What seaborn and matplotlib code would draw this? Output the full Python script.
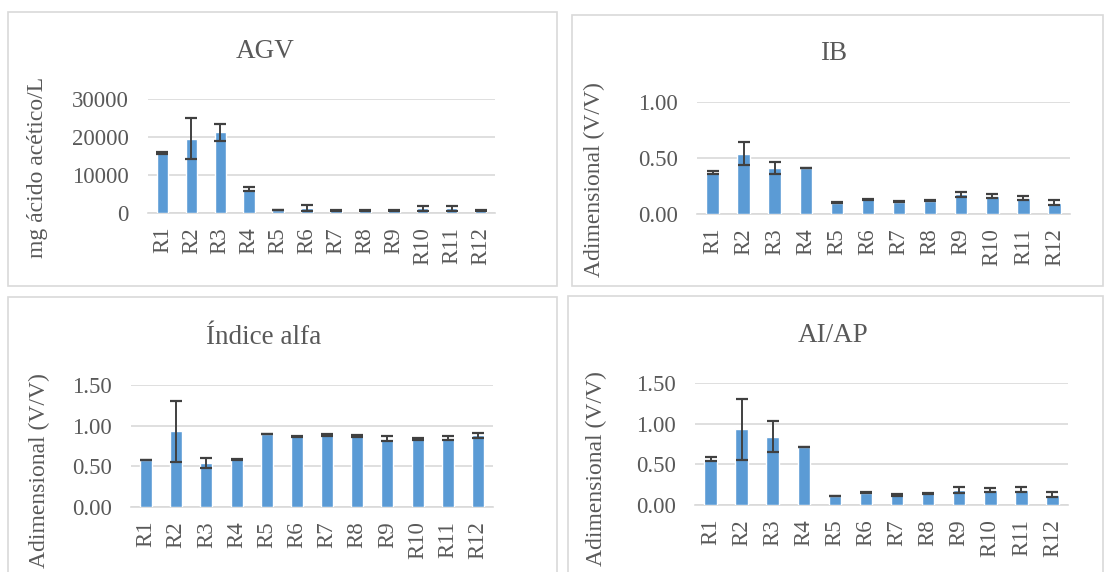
import matplotlib
matplotlib.use("Agg")
import matplotlib.pyplot as plt
from matplotlib.patches import Rectangle
import numpy as np
import pandas as pd
import seaborn as sns

categories = ["R1", "R2", "R3", "R4", "R5", "R6", "R7", "R8", "R9", "R10", "R11", "R12"]

agv_mean = [15800, 19600, 21200, 6300, 800, 1300, 700, 700, 700, 1200, 1300, 700]
agv_err = [200, 5400, 2200, 550, 100, 800, 100, 100, 100, 600, 650, 100]

ib_mean = [0.37, 0.54, 0.41, 0.41, 0.10, 0.13, 0.11, 0.12, 0.175, 0.165, 0.145, 0.10]
ib_err = [0.01, 0.10, 0.057, 0.003, 0.003, 0.005, 0.006, 0.004, 0.024, 0.018, 0.02, 0.022]

alfa_mean = [0.58, 0.93, 0.545, 0.585, 0.898, 0.87, 0.886, 0.874, 0.84, 0.84, 0.845, 0.88]
alfa_err = [0.004, 0.375, 0.06, 0.004, 0.004, 0.008, 0.01, 0.008, 0.03, 0.012, 0.025, 0.03]

aiap_mean = [0.566, 0.93, 0.84, 0.713, 0.11, 0.15, 0.127, 0.143, 0.19, 0.184, 0.19, 0.127]
aiap_err = [0.02, 0.375, 0.19, 0.004, 0.004, 0.006, 0.012, 0.008, 0.037, 0.022, 0.028, 0.03]

titles = ["AGV", "IB", "Índice alfa", "AI/AP"]
ylabels = ["mg ácido acético/L", "Adimensional (V/V)", "Adimensional (V/V)", "Adimensional (V/V)"]
yticks = [[0, 10000, 20000, 30000], [0.0, 0.5, 1.0], [0.0, 0.5, 1.0, 1.5], [0.0, 0.5, 1.0, 1.5]]
yticklabels = [["0", "10000", "20000", "30000"], ["0.00", "0.50", "1.00"],
               ["0.00", "0.50", "1.00", "1.50"], ["0.00", "0.50", "1.00", "1.50"]]

sns.set_theme(style="white")
plt.rcParams["font.family"] = ["Liberation Serif", "DejaVu Serif"]

W, H = 1105, 572
fig = plt.figure(figsize=(W / 100, H / 100), dpi=100)
fig.patch.set_facecolor("white")

TXT = "#595959"
BAR = "#5B9BD5"
GRID = "#D9D9D9"

# panel borders in pixels (left, top, right, bottom)
borders = [(8, 12, 557, 286), (572, 15, 1103, 286), (8, 297, 557, 575), (568, 296, 1103, 575)]
# plot areas in pixels (left, top, right, bottom)
areas = [(148, 99, 495, 213), (697, 102, 1070, 214), (131, 385, 493, 507), (695, 383, 1068, 505)]
title_pos = [(265, 51), (834, 53), (264, 337), (833, 335)]
ylab_pos = [(-0.288, 0.40), (-0.247, 0.31), (-0.224, 0.30), (-0.236, 0.295)]

means = [agv_mean, ib_mean, alfa_mean, aiap_mean]
errs = [agv_err, ib_err, alfa_err, aiap_err]

for i in range(4):
    l, t, r, b = borders[i]
    fig.patches.append(Rectangle((l / W, 1 - b / H), (r - l) / W, (b - t) / H,
                                 transform=fig.transFigure, fill=False,
                                 edgecolor=GRID, linewidth=1.2, zorder=0))
    l, t, r, b = areas[i]
    ax = fig.add_axes([l / W, 1 - b / H, (r - l) / W, (b - t) / H])
    df = pd.DataFrame({"cat": categories, "val": means[i]})
    sns.barplot(data=df, x="cat", y="val", color=BAR, saturation=1, width=0.4, ax=ax, zorder=3)
    x = np.arange(len(categories))
    ax.errorbar(x, means[i], yerr=errs[i], fmt="none", ecolor="#404040",
                elinewidth=1.4, capsize=4.5, capthick=1.6, zorder=4)
    ax.set_xlim(-0.5, len(categories) - 0.5)
    ax.set_ylim(0, yticks[i][-1])
    ax.set_yticks(yticks[i])
    ax.set_yticklabels(yticklabels[i])
    ax.yaxis.grid(True, color=GRID, linewidth=1.2, zorder=0)
    ax.set_axisbelow(True)
    for s in ["top", "right", "left"]:
        ax.spines[s].set_visible(False)
    ax.spines["bottom"].set_color(GRID)
    ax.spines["bottom"].set_linewidth(1.2)
    ax.tick_params(axis="both", length=0, colors=TXT, labelsize=16.5)
    ax.tick_params(axis="y", pad=14)
    ax.tick_params(axis="x", pad=10, labelrotation=90)
    ax.set_xlabel("")
    ax.set_ylabel(ylabels[i], fontsize=17, color=TXT)
    ax.yaxis.set_label_coords(*ylab_pos[i])
    tx, ty = title_pos[i]
    fig.text(tx / W, 1 - ty / H, titles[i], fontsize=19.5, color=TXT, ha="center", va="center")

fig.savefig("out.png", dpi=100, facecolor="white")
